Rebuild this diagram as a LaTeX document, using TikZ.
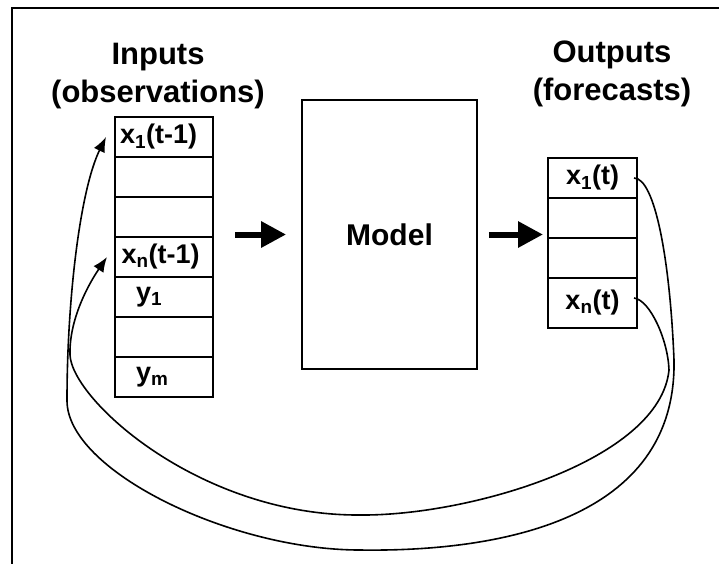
\documentclass[tikz,border=0pt]{standalone}
\usepackage{fontspec}
\setmainfont{Liberation Sans}
\usetikzlibrary{arrows.meta, positioning, calc}
\definecolor{inkblack}{RGB}{0, 0, 0}
\tikzstyle{cell} = [rectangle, draw=inkblack, line width=1.8pt, minimum height=40pt, inner sep=0pt, outer sep=0pt, font=\fontsize{27}{32}\selectfont\bfseries]
\tikzstyle{in_cell} = [cell, text width=88pt, inner xsep=5pt, align=left]
\tikzstyle{out_cell} = [cell, minimum width=89pt, align=center]
\tikzstyle{model_box} = [rectangle, draw=inkblack, line width=1.8pt, minimum width=175pt, minimum height=269pt, font=\fontsize{30}{36}\selectfont\bfseries]
\tikzstyle{heading} = [font=\fontsize{31}{38}\selectfont\bfseries, align=center, inkblack]
\tikzstyle{bigarrow} = [line width=6pt, inkblack, -{Triangle[length=25pt, width=25pt]}]
\tikzstyle{feedback} = [line width=1.6pt, inkblack, -{Latex[length=15pt, width=12pt]}]

\begin{document}
\begin{tikzpicture}[x=1pt, y=-1pt]
\useasboundingbox (0,0) rectangle (719,563);

% Frame (cut off on the right and at the bottom)
\draw[line width=1.8pt] (740,8) -- (12,8) -- (12,580);

% Titles
\node[heading] (intitle) at (158,76) {Inputs\\(observations)};
\node[heading] (outtitle) at (612,74) {Outputs\\(forecasts)};

% Input stack
\node[in_cell] (in1) at (164,137) {x\textsubscript{1}(t-1)};
\node[in_cell, below=0pt of in1] (in2) {};
\node[in_cell, below=0pt of in2] (in3) {};
\node[in_cell, below=0pt of in3] (in4) {\hspace*{1.5pt}x\textsubscript{n}(t-1)};
\node[in_cell, below=0pt of in4] (in5) {\hspace*{16pt}y\textsubscript{1}};
\node[in_cell, below=0pt of in5] (in6) {};
\node[in_cell, below=0pt of in6] (in7) {\hspace*{16pt}y\textsubscript{m}};

% Model
\node[model_box] (model) at (389.5,234.5) {Model};

% Output stack
\node[out_cell] (out1) at (592.5,178) {x\textsubscript{1}(t)};
\node[out_cell, below=0pt of out1] (out2) {};
\node[out_cell, below=0pt of out2] (out3) {};
\node[out_cell, below=0pt of out3, minimum height=50pt] (out4) {x\textsubscript{n}(t)};

% Arrows through the model
\draw[bigarrow] ($(in4.north east |- model.west)+(22,0)$) -- ($(model.west)+(-15,0)$);
\draw[bigarrow] ($(model.east)+(11,0)$) -- ($(out3.north west |- model.east)+(-5,0)$);

% Forecasts fed back as inputs
\draw[feedback] ([xshift=-3pt]out1.east) .. controls (655,178) and (670,260) .. (674,360)
  .. controls (677,520) and (500,552) .. (360,550)
  .. controls (230,550) and (66,470) .. (67,400)
  .. controls (67,300) and (80,190) .. ([xshift=-9pt]in1.west);
\draw[feedback] ([xshift=-3pt,yshift=5pt]out4.east) .. controls (650,300) and (668,340) .. (669,370)
  .. controls (660,460) and (470,516) .. (360,515)
  .. controls (200,516) and (72,400) .. (70,355)
  .. controls (69,320) and (88,285) .. ([xshift=-8pt]in4.west);

\end{tikzpicture}
\end{document}
